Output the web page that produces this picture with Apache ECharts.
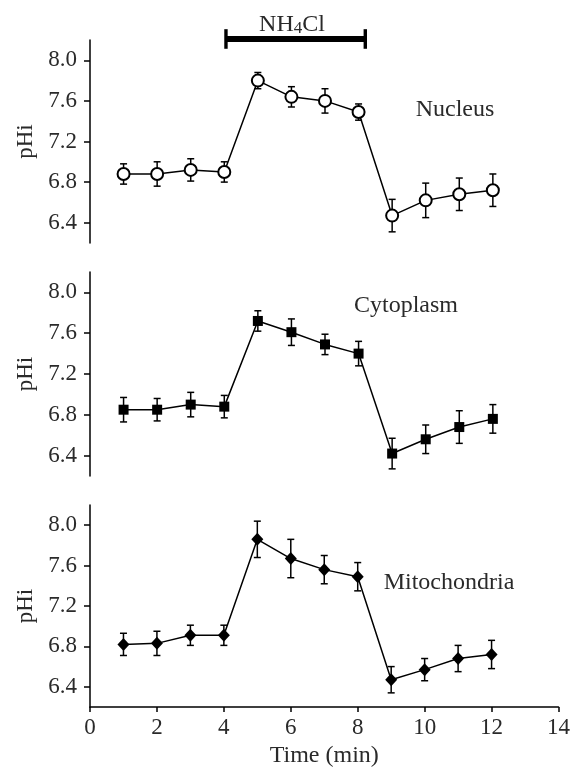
<!DOCTYPE html>
<html><head><meta charset="utf-8">
<script src="https://cdn.jsdelivr.net/npm/echarts@6/dist/echarts.min.js"></script>
<style>html,body{margin:0;padding:0;background:#fff}#c{width:573px;height:769px}</style>
</head><body><div id="c"></div>
<script>
// ---- data ----
const time = [1, 2, 3, 4, 5, 6, 7, 8, 9, 10, 11, 12];
const nucleusMean = [6.88, 6.88, 6.92, 6.90, 7.80, 7.64, 7.60, 7.49, 6.47, 6.62, 6.68, 6.72];
const nucleusErr  = [0.10, 0.12, 0.11, 0.10, 0.08, 0.10, 0.12, 0.08, 0.16, 0.17, 0.16, 0.16];
const cytoMean    = [6.85, 6.85, 6.90, 6.88, 7.72, 7.61, 7.49, 7.40, 6.42, 6.56, 6.68, 6.76];
const cytoErr     = [0.12, 0.11, 0.12, 0.11, 0.10, 0.13, 0.10, 0.12, 0.15, 0.14, 0.16, 0.14];
const mitoMean    = [6.82, 6.83, 6.91, 6.91, 7.86, 7.67, 7.56, 7.49, 6.47, 6.57, 6.68, 6.72];
const mitoErr     = [0.11, 0.12, 0.10, 0.10, 0.18, 0.19, 0.14, 0.14, 0.13, 0.11, 0.13, 0.14];
const yTicks = [6.4, 6.8, 7.2, 7.6, 8.0];
const panelNames = ['Nucleus', 'Cytoplasm', 'Mitochondria'];
const treatment = {label: 'NH4Cl', start: 4.05, end: 8.2, level: 8.21};

// ---- chart ----
const FONT = 'Liberation Serif, Times New Roman, serif';
const TXT = '#2a2a2a';
const chart = echarts.init(document.getElementById('c'), null, {renderer: 'canvas'});

const grids = [
  {left: 90, right: 13, top: 40, height: 203},
  {left: 90, right: 13, top: 272, height: 204},
  {left: 90, right: 13, top: 505, height: 204}
];

const xAxes = grids.map((g, i) => ({
  type: 'value', gridIndex: i, min: 0, max: 14, interval: 2,
  show: i === 2,
  axisLine: {show: true, lineStyle: {color: '#000', width: 1.5}},
  axisTick: {show: true, length: 5, lineStyle: {color: '#000', width: 1.5}},
  axisLabel: {show: true, color: TXT, fontFamily: FONT, fontSize: 23, margin: 9},
  splitLine: {show: false},
  name: i === 2 ? 'Time (min)' : '',
  nameLocation: 'middle', nameGap: 37,
  nameTextStyle: {color: TXT, fontFamily: FONT, fontSize: 24}
}));

const yAxes = grids.map((g, i) => ({
  type: 'value', gridIndex: i, min: 6.2, max: 8.2,
  axisLine: {show: true, lineStyle: {color: '#000', width: 1.5}},
  axisTick: {show: true, length: 6, customValues: yTicks, lineStyle: {color: '#000', width: 1.5}},
  axisLabel: {show: true, customValues: yTicks, color: TXT, fontFamily: FONT, fontSize: 23, margin: 13,
    formatter: v => Number(v).toFixed(1)},
  splitLine: {show: false},
  name: 'pHi', nameLocation: 'middle', nameGap: 53,
  nameTextStyle: {color: TXT, fontFamily: FONT, fontSize: 23}
}));

function errSeries(idx, mean, err) {
  return {
    type: 'custom', xAxisIndex: idx, yAxisIndex: idx, z: 1,
    data: time.map((t, k) => [t, mean[k] - err[k], mean[k] + err[k]]),
    renderItem: (params, api) => {
      const x = api.value(0);
      const lo = api.coord([x, api.value(1)]);
      const hi = api.coord([x, api.value(2)]);
      const w = 3.5;
      const st = {stroke: '#000', lineWidth: 1.5};
      return {type: 'group', children: [
        {type: 'line', shape: {x1: lo[0], y1: lo[1], x2: hi[0], y2: hi[1]}, style: st},
        {type: 'line', shape: {x1: lo[0] - w, y1: lo[1], x2: lo[0] + w, y2: lo[1]}, style: st},
        {type: 'line', shape: {x1: hi[0] - w, y1: hi[1], x2: hi[0] + w, y2: hi[1]}, style: st}
      ]};
    }
  };
}

function lineSeries(idx, name, mean, symbol, size, filled) {
  return {
    type: 'line', name: name, xAxisIndex: idx, yAxisIndex: idx, z: 3,
    data: time.map((t, k) => [t, mean[k]]),
    symbol: symbol, symbolSize: size, showAllSymbol: true,
    lineStyle: {color: '#000', width: 1.5},
    itemStyle: filled ? {color: '#000', borderColor: '#000', borderWidth: 0}
                      : {color: '#fff', borderColor: '#000', borderWidth: 2},
    emphasis: {disabled: true}, animation: false
  };
}

const treatSeries = {
  type: 'custom', xAxisIndex: 0, yAxisIndex: 0, clip: false, z: 5,
  data: [[treatment.start, treatment.end, treatment.level]],
  renderItem: (params, api) => {
    const a = api.coord([api.value(0), api.value(2)]);
    const b = api.coord([api.value(1), api.value(2)]);
    const h = 9.8;
    return {type: 'group', children: [
      {type: 'line', shape: {x1: a[0], y1: a[1], x2: b[0], y2: b[1]}, style: {stroke: '#000', lineWidth: 6}},
      {type: 'line', shape: {x1: a[0], y1: a[1] - h, x2: a[0], y2: a[1] + h}, style: {stroke: '#000', lineWidth: 3.4}},
      {type: 'line', shape: {x1: b[0], y1: b[1] - h, x2: b[0], y2: b[1] + h}, style: {stroke: '#000', lineWidth: 3.4}}
    ]};
  }
};

const option = {
  backgroundColor: '#fff',
  animation: false,
  grid: grids,
  xAxis: xAxes,
  yAxis: yAxes,
  series: [
    errSeries(0, nucleusMean, nucleusErr),
    lineSeries(0, panelNames[0], nucleusMean, 'circle', 12, false),
    errSeries(1, cytoMean, cytoErr),
    lineSeries(1, panelNames[1], cytoMean, 'rect', 10, true),
    errSeries(2, mitoMean, mitoErr),
    lineSeries(2, panelNames[2], mitoMean, 'diamond', [12, 13], true),
    treatSeries
  ],
  graphic: [
    {type: 'text', x: 455, y: 110,
      style: {text: panelNames[0], font: '24px ' + FONT, fill: TXT, textAlign: 'center', textVerticalAlign: 'middle'}},
    {type: 'text', x: 406, y: 306,
      style: {text: panelNames[1], font: '24px ' + FONT, fill: TXT, textAlign: 'center', textVerticalAlign: 'middle'}},
    {type: 'text', x: 449, y: 583,
      style: {text: panelNames[2], font: '24px ' + FONT, fill: TXT, textAlign: 'center', textVerticalAlign: 'middle'}},
    {type: 'text', x: 292, y: 24,
      style: {text: '{a|NH}{b|4}{a|Cl}', textAlign: 'center', textVerticalAlign: 'middle',
        rich: {
          a: {fontFamily: FONT, fontSize: 24, fill: TXT, color: TXT, lineHeight: 26, verticalAlign: 'bottom'},
          b: {fontFamily: FONT, fontSize: 17, fill: TXT, color: TXT, lineHeight: 26, verticalAlign: 'bottom'}
        }}}
  ]
};
chart.setOption(option);
</script>
</body></html>
